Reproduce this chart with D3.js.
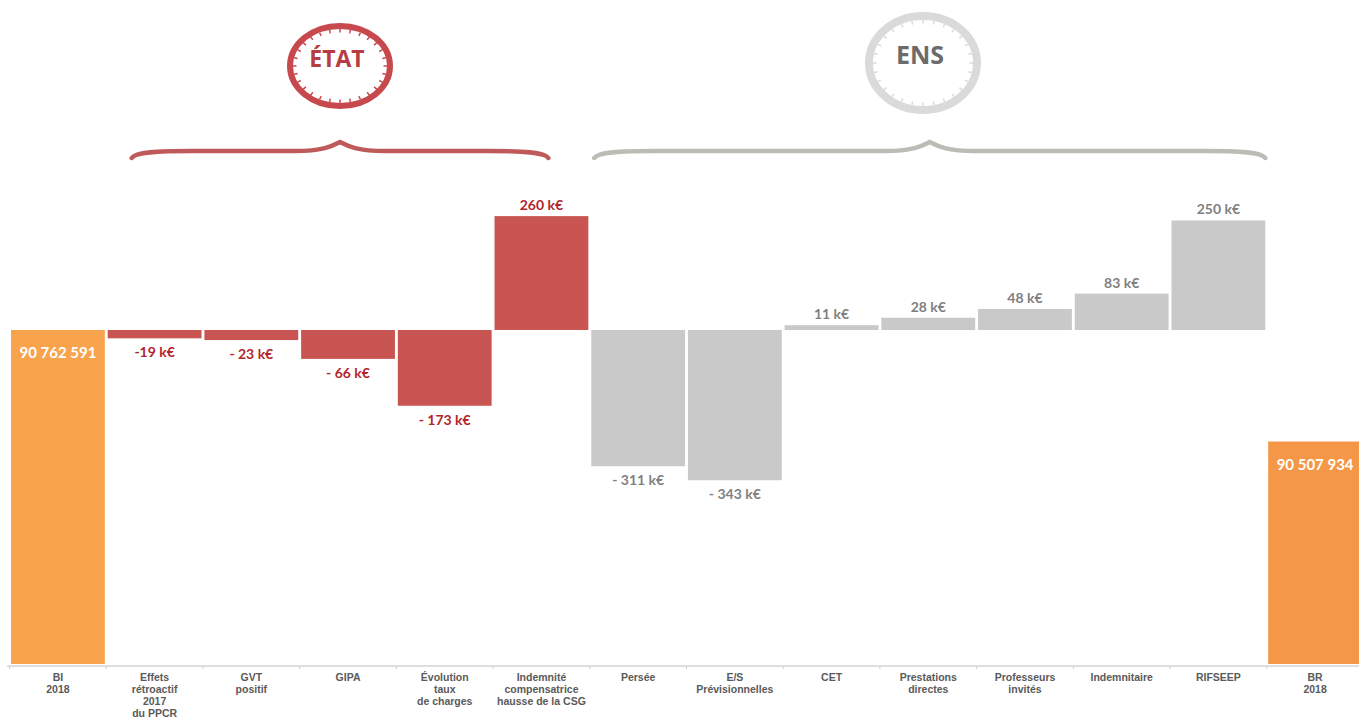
<!DOCTYPE html>
<html>
<head>
<meta charset="utf-8">
<script src="https://cdn.jsdelivr.net/npm/d3@7"></script>
<style>
  body { margin: 0; background: #fff; }
  .axis-label { font-family: "Liberation Sans", Arial, sans-serif; font-size: 10.5px; font-weight: bold; fill: #5a5a5a; }
  .value { font-family: Lato, "Noto Sans", sans-serif; font-weight: bold; font-size: 14px; text-anchor: middle; }
</style>
</head>
<body>
<div id="container"></div>
<script>
const categories = [
  ["BI", "2018"],
  ["Effets", "rétroactif", "2017", "du PPCR"],
  ["GVT", "positif"],
  ["GIPA"],
  ["Évolution", "taux", "de charges"],
  ["Indemnité", "compensatrice", "hausse de la CSG"],
  ["Persée"],
  ["E/S", "Prévisionnelles"],
  ["CET"],
  ["Prestations", "directes"],
  ["Professeurs", "invités"],
  ["Indemnitaire"],
  ["RIFSEEP"],
  ["BR", "2018"]
];
const startTotal = 90762591;
const endTotal = 90507934;
const totalLabels = ["90 762 591", "90 507 934"];
// variations in k€
const deltas = [-19, -23, -66, -173, 260, -311, -343, 11, 28, 48, 83, 250];
const deltaLabels = ["-19 k€", "- 23 k€", "- 66 k€", "- 173 k€", "260 k€",
  "- 311 k€", "- 343 k€", "11 k€", "28 k€", "48 k€", "83 k€", "250 k€"];
const deltaGroups = ["etat", "etat", "etat", "etat", "etat",
  "ens", "ens", "ens", "ens", "ens", "ens", "ens"];
const groupNames = ["ÉTAT", "ENS"];

const width = 1359;
const height = 718;

const svg = d3.select("#container").append("svg")
  .attr("width", width)
  .attr("height", height);

const keys = categories.map(c => c.join(" "));

const x = d3.scaleBand()
  .domain(keys)
  .range([11, 1362])
  .paddingInner(0.03);

const y = d3.scaleLinear()
  .domain([90000000, 91100000])
  .range([664, 182.2]);

const colors = { etat: "#c95552", ens: "#c9c9c9" };
const labelColors = { etat: "#b3242b", ens: "#7f7f7f" };

// totals
const totals = [
  { key: keys[0], value: startTotal, label: totalLabels[0], color: "#f9a34c" },
  { key: keys[13], value: endTotal, label: totalLabels[1], color: "#f49746" }
];

svg.selectAll(".total")
  .data(totals)
  .enter().append("rect")
  .attr("class", "total")
  .attr("x", d => x(d.key))
  .attr("y", d => y(d.value))
  .attr("width", x.bandwidth())
  .attr("height", d => y(90000000) - y(d.value))
  .attr("fill", d => d.color);

svg.selectAll(".total-label")
  .data(totals)
  .enter().append("text")
  .attr("class", "value")
  .attr("x", d => x(d.key) + x.bandwidth() / 2)
  .attr("y", d => y(d.value) + 28)
  .attr("fill", "#fff")
  .style("font-size", "15px")
  .text(d => d.label);

// variations, all drawn from the BI level
const deltaData = deltas.map((v, i) => ({
  key: keys[i + 1], value: v, label: deltaLabels[i], group: deltaGroups[i]
}));

svg.selectAll(".delta")
  .data(deltaData)
  .enter().append("rect")
  .attr("class", "delta")
  .attr("x", d => x(d.key))
  .attr("y", d => Math.min(y(startTotal), y(startTotal + d.value * 1000)))
  .attr("width", x.bandwidth())
  .attr("height", d => Math.abs(y(startTotal + d.value * 1000) - y(startTotal)))
  .attr("fill", d => colors[d.group]);

svg.selectAll(".delta-label")
  .data(deltaData)
  .enter().append("text")
  .attr("class", "value")
  .attr("x", d => x(d.key) + x.bandwidth() / 2)
  .attr("y", d => d.value < 0
    ? y(startTotal + d.value * 1000) + 19
    : y(startTotal + d.value * 1000) - 6)
  .attr("fill", d => labelColors[d.group])
  .text(d => d.label);

// x axis
const axisY = 666;
svg.append("line")
  .attr("x1", 7).attr("x2", width)
  .attr("y1", axisY).attr("y2", axisY)
  .attr("stroke", "#d4d4d4")
  .attr("stroke-width", 1.5);

svg.selectAll(".sep")
  .data(keys)
  .enter().append("line")
  .attr("x1", d => x(d) - x.step() * x.paddingInner() / 2)
  .attr("x2", d => x(d) - x.step() * x.paddingInner() / 2)
  .attr("y1", axisY).attr("y2", axisY + 3)
  .attr("stroke", "#cfcfcf");

const xAxis = svg.append("g")
  .attr("transform", `translate(0,${axisY})`)
  .call(d3.axisBottom(x).tickSize(0).tickFormat(""))
  .call(g => g.select(".domain").remove());

xAxis.selectAll(".tick text").remove();
xAxis.selectAll(".tick").append("text")
  .attr("class", "axis-label")
  .attr("text-anchor", "middle")
  .selectAll("tspan")
  .data((d, i) => categories[i])
  .enter().append("tspan")
  .attr("x", 0)
  .attr("y", (d, i) => 15 + i * 12)
  .text(d => d);

// group braces and badges
function brace(x0, x1, yLine, yEnd, yPeak) {
  const xm = (x0 + x1) / 2;
  return `M${x0},${yEnd} C${x0 + 4},${yLine + 1} ${x0 + 25},${yLine} ${x0 + 60},${yLine}`
    + ` L${xm - 45},${yLine} C${xm - 15},${yLine} ${xm - 6},${yPeak + 3} ${xm},${yPeak}`
    + ` C${xm + 6},${yPeak + 3} ${xm + 15},${yLine} ${xm + 45},${yLine}`
    + ` L${x1 - 60},${yLine} C${x1 - 25},${yLine} ${x1 - 4},${yLine + 1} ${x1},${yEnd}`;
}

const groups = [
  {
    name: groupNames[0],
    x0: x(keys[1]) + 24, x1: x(keys[5]) + x.bandwidth() - 40,
    stroke: "#bf5a5a", ring: "#c7484d", text: "#b83c42",
    cx: 340, cy: 66, rx: 50, ry: 40, sw: 6, fs: 23, ty: 67
  },
  {
    name: groupNames[1],
    x0: x(keys[6]) + 3, x1: x(keys[12]) + x.bandwidth(),
    stroke: "#bbbcb4", ring: "#dadada", text: "#6b6b6b",
    cx: 923, cy: 63, rx: 54, ry: 47, sw: 8, fs: 25, ty: 64
  }
];

groups.forEach(gr => {
  svg.append("path")
    .attr("d", brace(gr.x0, gr.x1, 151, 158, 142))
    .attr("fill", "none")
    .attr("stroke", gr.stroke)
    .attr("stroke-width", 4.5)
    .attr("stroke-linecap", "round");

  svg.append("ellipse")
    .attr("cx", gr.cx).attr("cy", gr.cy)
    .attr("rx", gr.rx).attr("ry", gr.ry)
    .attr("fill", "#fff")
    .attr("stroke", gr.ring)
    .attr("stroke-width", gr.sw);

  const n = 28;
  svg.append("g").selectAll("line")
    .data(d3.range(n))
    .enter().append("line")
    .attr("x1", i => gr.cx + (gr.rx - gr.sw / 2) * Math.cos(i / n * 2 * Math.PI))
    .attr("y1", i => gr.cy + (gr.ry - gr.sw / 2) * Math.sin(i / n * 2 * Math.PI))
    .attr("x2", i => gr.cx + (gr.rx - gr.sw / 2 - 3.5) * Math.cos(i / n * 2 * Math.PI))
    .attr("y2", i => gr.cy + (gr.ry - gr.sw / 2 - 3.5) * Math.sin(i / n * 2 * Math.PI))
    .attr("stroke", gr.ring)
    .attr("stroke-width", 1.5);

  svg.append("text")
    .attr("x", gr.cx - 3)
    .attr("y", gr.ty)
    .attr("text-anchor", "middle")
    .style("font-family", "\"Open Sans\", \"Noto Sans\", sans-serif")
    .style("font-weight", "bold")
    .style("font-size", gr.fs + "px")
    .attr("fill", gr.text)
    .text(gr.name);
});
</script>
</body>
</html>
